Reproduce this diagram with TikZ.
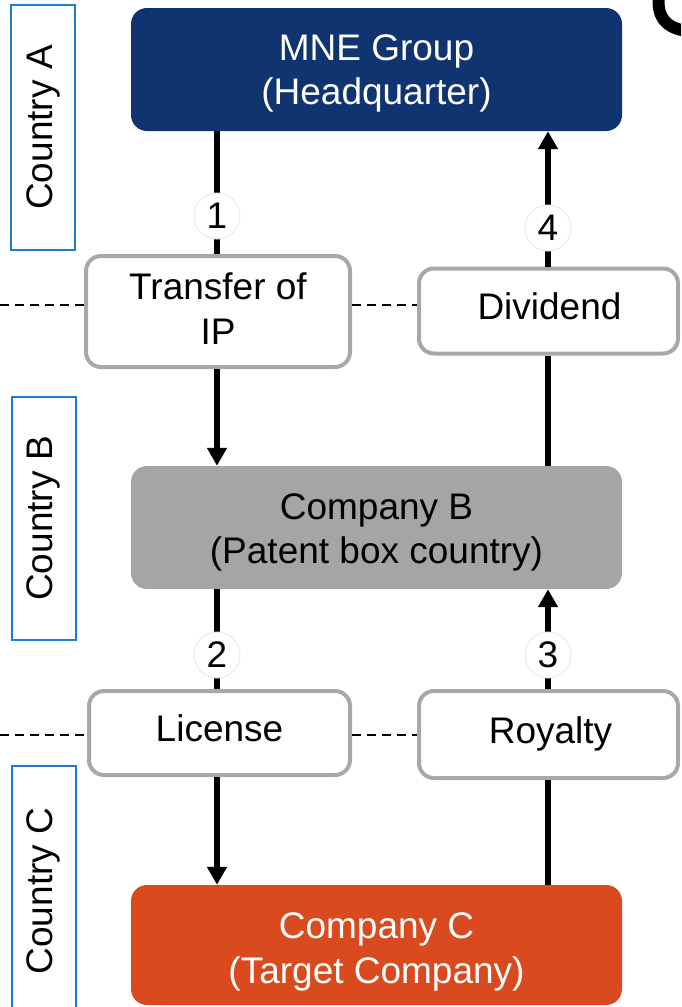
\documentclass[tikz,border=0pt]{standalone}
\usepackage{fontspec}
\setmainfont{Liberation Sans}
\usetikzlibrary{arrows.meta,calc}
\definecolor{hqblue}{HTML}{0F3470}
\definecolor{boxgray}{HTML}{A5A5A5}
\definecolor{tgtred}{HTML}{D94A1E}
\definecolor{edgegray}{HTML}{A8A8A8}
\definecolor{ctryblue}{HTML}{1F7BD1}
\tikzset{
  entity/.style={rounded corners=16pt, minimum width=491pt, inner sep=0pt},
  flowbox/.style={draw=edgegray, line width=4pt, fill=white, rounded corners=15pt,
    inner sep=0pt},
  boxtext/.style={align=center, inner sep=0pt, font=\fontsize{37}{44.5}\selectfont},
  country/.style={draw=ctryblue, line width=2pt, rotate=90, minimum height=64pt,
    font=\fontsize{37}{44}\selectfont, inner sep=0pt},
  flow/.style={line width=6pt},
  flowarrow/.style={line width=6pt, -{Triangle[length=18pt,width=19pt]}},
  stepno/.style={circle, fill=white, draw=black!8, line width=1pt, minimum size=46pt,
    inner sep=0pt, font=\fontsize{37}{37}\selectfont},
  border/.style={dashed, line width=2.5pt, dash pattern=on 9pt off 6pt}
}
\begin{document}
\begin{tikzpicture}[x=1pt,y=-1pt]
\useasboundingbox (0,0) rectangle (681,1007);
\clip (0,0) rectangle (681,1007);

% corner of a large glyph running off the top right
\draw[line width=12pt, line cap=round] (659,-4) .. controls (656,18) and (668,30) .. (690,31);

% country bands
\node[country, minimum width=245pt] (ca) at (43,127.5) {Country A};
\node[country, minimum width=243pt] (cb) at (43.5,518.5) {Country B};
\node[country, minimum width=250pt] (cc) at (43.5,891) {Country C};

% entities
\node[entity, fill=hqblue, minimum height=123pt] (mne) at (376.5,69.5) {};
\node[entity, fill=boxgray, minimum height=123pt] (cob) at (376.5,527.5) {};
\node[entity, fill=tgtred, minimum height=120pt] (coc) at (376.5,945) {};
\node[boxtext, text=white] (mnet) at ($(mne.center)+(0,4)$) {MNE Group\\(Headquarter)};
\node[boxtext, text=black] (cobt) at ($(cob.center)+(0,5)$) {Company B\\(Patent box country)};
\node[boxtext, text=white] (coct) at ($(coc.center)+(0,7)$) {Company C\\(Target Company)};

% flow labels
\node[flowbox, minimum width=264pt, minimum height=111pt] (tr) at (218,311.5) {};
\node[flowbox, minimum width=259pt, minimum height=85pt] (dv) at (548.5,311) {};
\node[flowbox, minimum width=261pt, minimum height=84pt] (li) at (219.5,733) {};
\node[flowbox, minimum width=259pt, minimum height=87pt] (ro) at (548.5,734.5) {};
\node[boxtext] (trt) at ($(tr.center)+(0,-3)$) {Transfer of\\IP};
\node[boxtext] (dvt) at ($(dv.center)+(1,-5)$) {Dividend};
\node[boxtext] (lit) at ($(li.center)+(0,-5)$) {License};
\node[boxtext] (rot) at ($(ro.center)+(2,-1)$) {Royalty};

% borders between countries
\coordinate (bl1) at (0,305);
\coordinate (bl2) at (0,735);
\draw[border] (bl1) -- (tr.west |- bl1);
\draw[border] (tr.east |- bl1) -- (dv.west |- bl1);
\draw[border] (bl2) -- (li.west |- bl2);
\draw[border] (li.east |- bl2) -- (ro.west |- bl2);

% flows
\coordinate (xl) at (217,0);
\coordinate (xr) at (548,0);
\draw[flow] (mne.south -| xl) -- (tr.north -| xl);
\draw[flowarrow] (tr.south -| xl) -- (cob.north -| xl);
\draw[flow] (cob.north -| xr) -- (dv.south -| xr);
\draw[flowarrow] (dv.north -| xr) -- (mne.south -| xr);
\draw[flow] (cob.south -| xl) -- (li.north -| xl);
\draw[flowarrow] (li.south -| xl) -- (coc.north -| xl);
\draw[flow] (coc.north -| xr) -- (ro.south -| xr);
\draw[flowarrow] (ro.north -| xr) -- (cob.south -| xr);

% step numbers
\node[stepno] (s1) at (217,216) {1};
\node[stepno] (s4) at (548,228) {4};
\node[stepno] (s2) at (217,655) {2};
\node[stepno] (s3) at (548,655) {3};
\end{tikzpicture}
\end{document}
